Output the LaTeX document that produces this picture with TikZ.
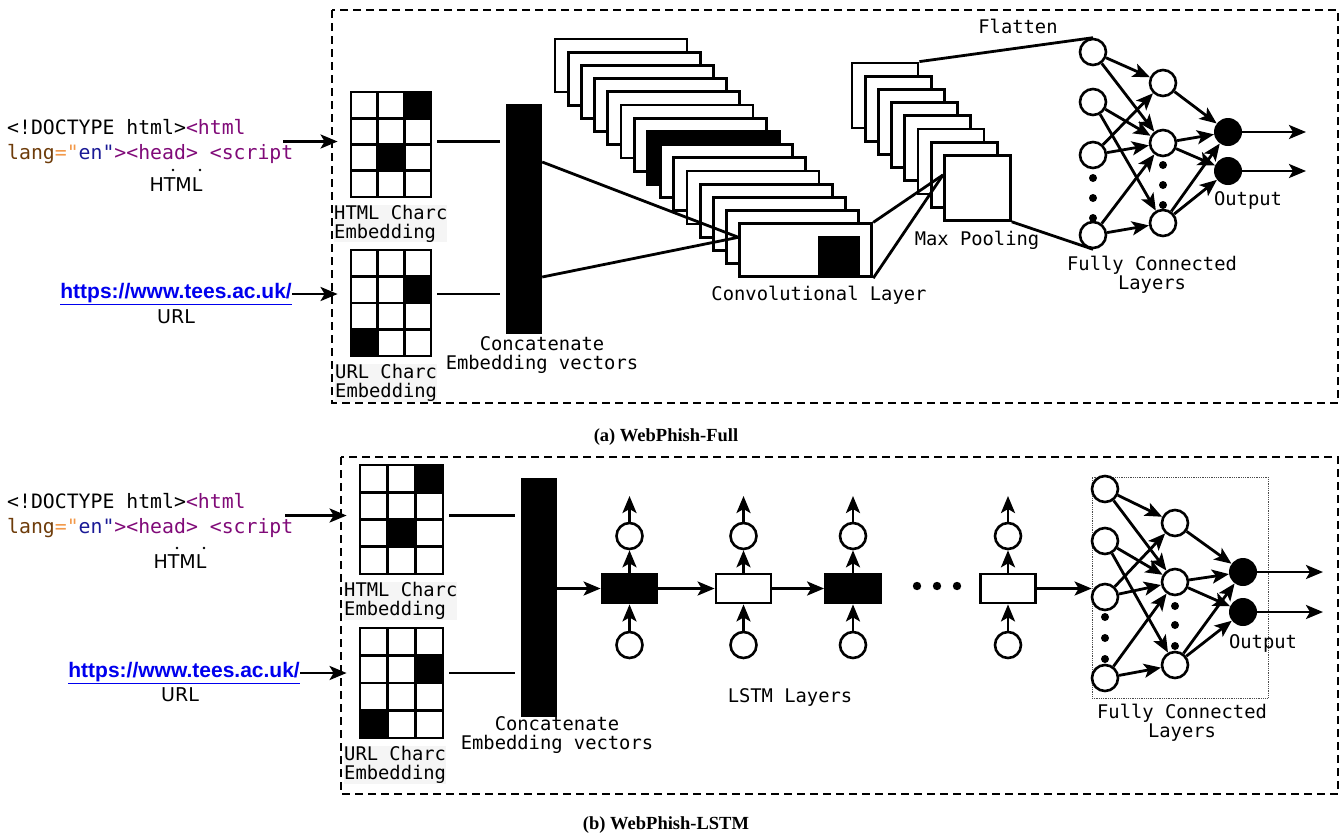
\documentclass[tikz,border=0pt]{standalone}
\usepackage{fontspec}
\usetikzlibrary{arrows.meta}
\newfontfamily\codefont{DejaVu Sans Mono}
\newfontfamily\tagfont{DejaVu Sans}
\newfontfamily\linkfont{Liberation Sans}
\newfontfamily\capfont{Liberation Serif}
\definecolor{tagpurple}{RGB}{128,10,120}
\definecolor{attrbrown}{RGB}{110,60,10}
\definecolor{valorange}{RGB}{242,153,74}
\definecolor{strnavy}{RGB}{26,26,150}
\definecolor{linkblue}{RGB}{0,0,238}
\begin{document}
\begin{tikzpicture}[x=1pt, y=-1pt,
  lbl/.style={font=\codefont\fontsize{18.8}{19}\selectfont, inner sep=0pt, align=center},
  code/.style={font=\codefont\fontsize{19.8}{25}\selectfont, inner sep=0pt, align=left, anchor=west},
  tag/.style={font=\tagfont\fontsize{19}{20}\selectfont, inner sep=0pt},
  weblink/.style={font=\linkfont\bfseries\fontsize{21}{22}\selectfont, text=linkblue, inner sep=0pt, anchor=east},
  cell/.style={draw, line width=2.8pt, inner sep=0pt},
  fmap/.style={draw, line width=2.8pt, inner sep=0pt, minimum width=132, minimum height=53},
  pmap/.style={draw, fill=white, line width=2.8pt, inner sep=0pt, minimum width=66, minimum height=65},
  bar/.style={fill=black, inner sep=0pt, minimum width=36},
  neuron/.style={circle, draw, fill=white, line width=2.6pt, minimum size=26, inner sep=0pt},
  outn/.style={circle, fill=black, minimum size=28, inner sep=0pt},
  lstm/.style={draw, line width=2.8pt, minimum width=55, minimum height=29, inner sep=0pt},
  arr/.style={line width=2.8pt, -{Stealth[length=17pt,width=14pt,inset=4pt]}},
  link/.style={line width=2.8pt, shorten <=5pt, shorten >=6pt},
  frame/.style={line width=2.6pt, dash pattern=on 8pt off 5pt},
  caption/.style={font=\capfont\bfseries\fontsize{18.5}{19}\selectfont, inner sep=0pt}]
\useasboundingbox (0,0) rectangle (1344,839);

% frames
\draw[frame] (332,10) rectangle (1338,403);
\draw[frame] (341,457) rectangle (1338,794);

% inputs
\node[code] (code1) at (7,141.5) {<!DOCTYPE html>\textcolor{tagpurple}{<html}\\\textcolor{attrbrown}{lang}\textcolor{valorange}{="}\textcolor{strnavy}{en"}\textcolor{tagpurple}{><head> <script}};
\node[tag] (html1) at (176,185) {HTML};
\fill (173,170) circle (1.3) (200,170) circle (1.3);
\node[weblink] (url1) at (292,294) {\underline{https://www.tees.ac.uk/}};
\node[tag] (urllab1) at (176,317) {URL};

\node[code] (code2) at (7,515.5) {<!DOCTYPE html>\textcolor{tagpurple}{<html}\\\textcolor{attrbrown}{lang}\textcolor{valorange}{="}\textcolor{strnavy}{en"}\textcolor{tagpurple}{><head> <script}};
\node[tag] (html2) at (180,562) {HTML};
\fill (177,548) circle (1.3) (204,548) circle (1.3);
\node[weblink] (url2) at (300,673) {\underline{https://www.tees.ac.uk/}};
\node[tag] (urllab2) at (180,695) {URL};

% character embeddings
\foreach \g/\gx/\gy/\cw/\ch/\ka/\kb in {hg1/351/92/26.67/26.25/0-2/2-1, ug1/351/250/26.67/26.5/1-2/3-0,
    hg2/360/465/27.67/27.25/0-2/2-1, ug2/360/628/27.67/27.5/1-2/3-0}{
  \foreach \row in {0,...,3}
    \foreach \col in {0,...,2}
      \node[cell, minimum width=\cw, minimum height=\ch] (\g-\row-\col) at ({\gx+(\col+0.5)*\cw}, {\gy+(\row+0.5)*\ch}) {};
  \foreach \k in {\ka,\kb}
    \fill (\g-\k.south west) rectangle (\g-\k.north east);
}
\node[lbl, anchor=west, align=left, fill=black!4] (hlab1) at (334,223.5) {HTML Charc \\Embedding};
\node[lbl, anchor=west, align=left, fill=black!4] (ulab1) at (335,383) {URL Charc\\ Embedding};
\node[lbl, anchor=west, align=left, fill=black!4] (hlab2) at (344,601) {HTML Charc \\Embedding};
\node[lbl, anchor=west, align=left, fill=black!4] (ulab2) at (344,765) {URL Charc \\Embedding};

\draw[arr, shorten >=12pt] ([xshift=-10]code1.east) -- (code1.east -| hg1-1-0.west);
\draw[arr, shorten >=12pt] (url1.east) -- (url1.east -| ug1-1-0.west);
\draw[arr, shorten >=12pt] ([xshift=-8]code2.east) -- (code2.east -| hg2-1-0.west);
\draw[arr, shorten >=12pt] (url2.east) -- (url2.east -| ug2-1-0.west);

% concatenation
\node[bar, minimum height=230] (cbar1) at (524,219) {};
\node[bar, minimum height=239] (cbar2) at (539,597.5) {};
\node[lbl] (cat1) at (542,355) {Concatenate\\Embedding vectors};
\node[lbl] (cat2) at (557,735.5) {Concatenate\\Embedding vectors};
\draw[link] (code1.east -| hg1-1-2.east) -- (code1.east -| cbar1.west);
\draw[link] (url1.east -| ug1-1-2.east) -- (url1.east -| cbar1.west);
\draw[link] (code2.east -| hg2-1-2.east) -- (code2.east -| cbar2.west);
\draw[link] (url2.east -| ug2-1-2.east) -- (url2.east -| cbar2.west);

% (a) convolution and pooling
\foreach \i in {0,...,14}{
  \ifnum\i=7 \def\fc{black}\else\def\fc{white}\fi
  \node[fmap, fill=\fc] (conv-\i) at ({621+13.2*\i}, {65.5+13.2*\i}) {};
}
\node[fill=black, inner sep=0pt, minimum width=42, minimum height=41] (convk) at (839,256.5) {};
\draw[line width=2.8pt] ([yshift=57]cbar1.east) -- ([yshift=13]conv-14.west);
\draw[line width=2.8pt] ([yshift=-58]cbar1.east) -- ([yshift=13]conv-14.west);
\node[lbl] (convlab) at (819,295) {Convolutional Layer};

\foreach \j in {0,...,7}
  \node[pmap] (pool-\j) at ({885+13.2*\j}, {95.5+13.2*\j}) {};
\draw[line width=2.8pt] (conv-14.north east) -- ([yshift=13]pool-7.west);
\draw[line width=2.8pt] (conv-14.south east) -- ([yshift=13]pool-7.west);
\node[lbl] (poollab) at (977,240) {Max Pooling};

% (a) dense layers
\foreach \n/\yy in {1/52,2/102,3/155,4/235} \node[neuron] (a1-\n) at (1093,\yy) {};
\foreach \n/\yy in {1/83,2/143,3/223} \node[neuron] (a2-\n) at (1163,\yy) {};
\foreach \n/\yy in {1/132,2/171} \node[outn] (ao-\n) at (1228,\yy) {};
\foreach \yy in {178,198,218} \fill (1093,\yy) circle (4);
\foreach \yy in {165,185,205} \fill (1163,\yy) circle (4);
\draw[line width=2.8pt] (pool-0.north east) -- (a1-1.north);
\draw[line width=2.8pt] (pool-7.south east) -- (a1-4.south);
\foreach \s/\t in {1/1,1/2,2/2,2/3,3/1,3/2,4/2,4/3} \draw[arr] (a1-\s) -- (a2-\t);
\foreach \s/\t in {1/1,2/1,2/2,3/1,3/2} \draw[arr] (a2-\s) -- (ao-\t);
\foreach \n/\yy in {1/132,2/171}{
  \coordinate (ae-\n) at (1306,\yy);
  \draw[arr] (ao-\n) -- (ae-\n);
}
\node[lbl] (flatlab) at (1018,26) {Flatten};
\node[lbl] (fclab1) at (1152,274.5) {Fully Connected\\Layers};
\node[lbl] (outlab1) at (1248,200) {Output};

% (b) LSTM chain
\foreach \k/\bx/\fc in {1/629.5/black,2/743.5/white,3/853/black,4/1008/white}{
  \node[lstm, fill=\fc] (b\k) at (\bx,588.5) {};
  \node[neuron] (hout-\k) at (\bx,536) {};
  \node[neuron] (xin-\k) at (\bx,645) {};
  \coordinate (htop-\k) at (\bx,496);
  \draw[arr] (b\k.north) -- (hout-\k.south);
  \draw[arr] (hout-\k.north) -- (htop-\k);
  \draw[arr] (xin-\k.north) -- (b\k.south);
}
\draw[arr] (cbar2.east |- b1.west) -- (b1.west);
\draw[arr] (b1) -- (b2);
\draw[arr] (b2) -- (b3);
\foreach \dx in {917,937,957} \fill (\dx,586) circle (4.2);
\node[lbl] (lstmlab) at (790,697) {LSTM Layers};

% (b) dense layers
\node[draw=black!70, densely dotted, line width=0.8pt, minimum width=176, minimum height=221, inner sep=0pt] (fcbox) at (1180,587.5) {};
\draw[arr] (b4.east) -- (b4.east -| fcbox.west);
\foreach \n/\yy in {1/489,2/541,3/597,4/678} \node[neuron] (c1-\n) at (1105,\yy) {};
\foreach \n/\yy in {1/523,2/582,3/665} \node[neuron] (c2-\n) at (1175,\yy) {};
\foreach \n/\yy in {1/572,2/612} \node[outn] (co-\n) at (1243,\yy) {};
\foreach \yy in {617,638,659} \fill (1105,\yy) circle (4);
\foreach \yy in {606,625,646} \fill (1175,\yy) circle (4);
\foreach \s/\t in {1/1,1/2,2/2,2/3,3/1,3/2,4/2,4/3} \draw[arr] (c1-\s) -- (c2-\t);
\foreach \s/\t in {1/1,2/1,2/2,3/1,3/2} \draw[arr] (c2-\s) -- (co-\t);
\foreach \n/\yy in {1/572,2/612}{
  \coordinate (ce-\n) at (1323,\yy);
  \draw[arr] (co-\n) -- (ce-\n);
}
\node[lbl] (fclab2) at (1182,722.5) {Fully Connected\\Layers};
\node[lbl] (outlab2) at (1263,643) {Output};

% captions
\node[caption] (capa) at (666,437) {(a) WebPhish-Full};
\node[caption] (capb) at (666,825) {(b) WebPhish-LSTM};
\end{tikzpicture}
\end{document}
